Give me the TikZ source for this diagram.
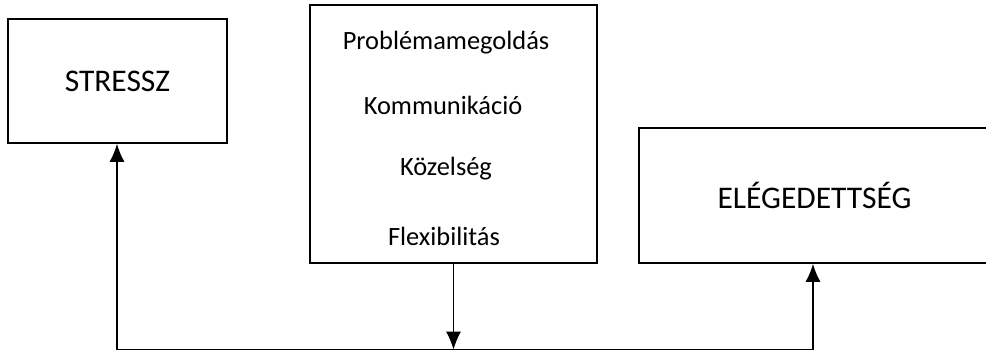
\documentclass[tikz,border=0pt]{standalone}
\usepackage{fontspec}
\setmainfont{Carlito}
\usetikzlibrary{positioning,arrows.meta}
\tikzstyle{block}=[draw,line width=1.6pt,inner sep=0pt]
\tikzstyle{item}=[inner sep=0pt,font=\fontsize{26.4}{30}\selectfont]
\tikzstyle{conn}=[-{Latex[length=18pt,width=15pt]}]
\newcommand{\bigtext}{\fontsize{31.5}{36}\selectfont}

\begin{document}
\begin{tikzpicture}[x=1pt,y=-1pt,
  line width=1.5pt  %connectors
  ]
  \useasboundingbox (0,0) rectangle (986,351);
  \clip (0,0) rectangle (986,351);
  % boxes
  \node[block,minimum width=219pt,minimum height=124pt,font=\bigtext] (stressz) at (117.5,81) {STRESSZ};
  \node[block,minimum width=287pt,minimum height=258pt] (factors) at (453.5,134) {};
  \node[block,minimum width=351pt,minimum height=135pt,font=\bigtext] (satisf) at (814.5,195.5) {ELÉGEDETTSÉG};
  % factors
  \node[item] (f1) at (446,43) {Problémamegoldás};
  \node[item] (f2) at (443,105) {Kommunikáció};
  \node[item] (f3) at (446,169) {Közelség};
  \node[item] (f4) at (444,236) {Flexibilitás};
  % connectors
  \coordinate (bl) at (117,349.5);
  \coordinate (br) at (813,349.5);
  \draw (bl) -- (br);
  \draw[conn,line width=1pt] (factors.south) -- (factors.south |- bl);
  \draw[conn] (bl) -- (bl |- stressz.south);
  \draw[conn] (br) -- (br |- satisf.south);
\end{tikzpicture}
\end{document}
